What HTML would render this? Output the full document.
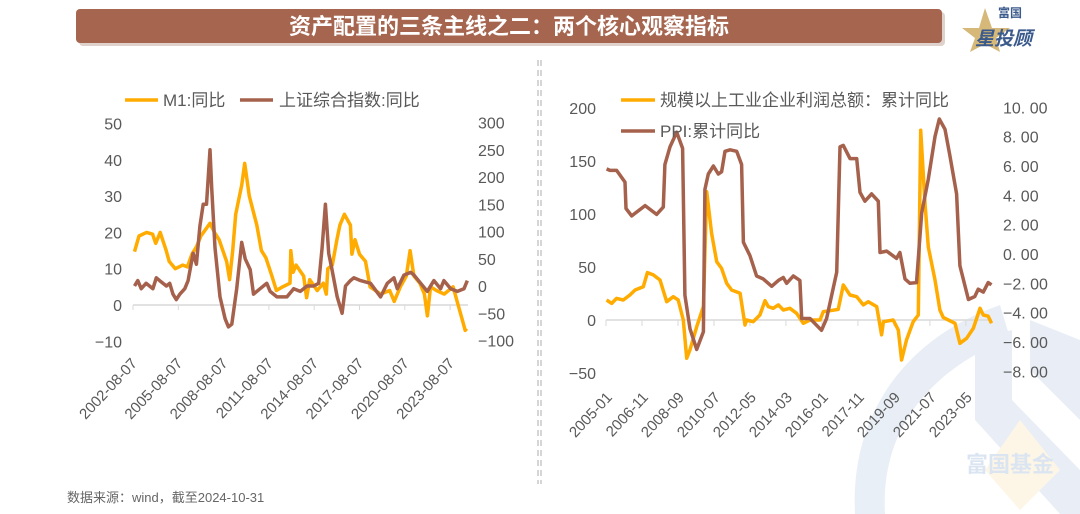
<!DOCTYPE html>
<html><head><meta charset="utf-8">
<style>
body{margin:0;background:#fff;}
#wrap{position:relative;width:1080px;height:514px;overflow:hidden;background:#fff;font-family:"Liberation Sans","Noto Sans CJK SC",sans-serif;}
svg text{font-family:"Liberation Sans","Noto Sans CJK SC",sans-serif;}
</style></head>
<body>
<div id="wrap">
<svg id="svg" width="1080" height="514" xmlns="http://www.w3.org/2000/svg">
  <g opacity="0.8">
    <path d="M855,514 C850,420 900,340 1000,305 L1010,338 C930,370 880,430 885,514 Z" fill="#e4ebf5"/>
    <path d="M975,340 L1012,330 L1012,400 L1080,470 L1080,514 L1060,514 L975,420 Z" fill="#e4ebf5"/>
    <path d="M1030,320 L1080,340 L1080,420 L1030,370 Z" fill="#e4ebf5"/>
    <path d="M1020,420 L1060,470 L1020,510 L985,470 Z" fill="#fdf3df"/>
    <text x="966" y="472" font-size="22" fill="#d3dff0" font-weight="bold">富国基金</text>
  </g>
  <g>
    <rect x="79" y="12" width="866" height="34" rx="4" fill="#c9b3a8" opacity="0.6"/>
    <rect x="76" y="9" width="866" height="34" rx="4" fill="#a6654f"/>
    <text x="509" y="34" text-anchor="middle" font-size="22" font-weight="bold" fill="#fff">资产配置的三条主线之二：两个核心观察指标</text>
  </g>
  <g>
    <polygon points="985,8 992,28 1010,28 996,38 1000,52 985,44 970,52 975,38 962,28 979,28" fill="#d6b878"/>
    <text x="998" y="17" font-size="12" font-weight="bold" fill="#3b5a8c">富国</text>
    <text x="975" y="45" font-size="19" font-weight="bold" fill="#3b5a8c" font-style="italic">星投顾</text>
  </g>
  <line x1="538" y1="60" x2="538" y2="484" stroke="#c8c8c8" stroke-width="1.5" stroke-dasharray="6,4"/>
  <line x1="541" y1="60" x2="541" y2="484" stroke="#c8c8c8" stroke-width="1.5" stroke-dasharray="6,4"/>
  <g id="left"></g>
  <g id="right"></g>
  <text x="67" y="502" font-size="13" fill="#666">数据来源：wind，截至2024-10-31</text>
</svg>
</div>
<script>
// ---- Left chart data ----
const m1Years=[2002.7,2003.0,2003.5,2003.9,2004.1,2004.4,2004.8,2005.0,2005.4,2005.9,2006.2,2006.5,2006.8,2007.1,2007.7,2008.0,2008.3,2008.8,2009.0,2009.2,2009.4,2009.8,2010.0,2010.3,2010.8,2011.1,2011.4,2011.8,2012.1,2012.5,2013.0,2013.05,2013.2,2013.4,2013.9,2014.1,2014.3,2014.8,2015.2,2015.4,2015.5,2015.8,2016.1,2016.3,2016.6,2017.0,2017.1,2017.3,2017.6,2018.0,2018.3,2019.0,2019.6,2019.9,2020.3,2020.7,2020.95,2021.2,2021.6,2021.9,2022.1,2022.3,2022.7,2023.2,2023.8,2024.0,2024.4,2024.6,2024.7];
const m1Values=[14.7,19,20,19.5,17,20,15,12,10,11,10.5,14,16,19,22.5,20,18,12,7,15,25,33,39,30,22,15,13,8,4,5,6,15,9,11,8,2,7,4,6,3,10,11,18,22,25,22,14,18,14,12,5,3,4,1,5,8,15,8,6,3,-3,5,4,3,5,2,-4,-7,-6.5];
const shYears=[2002.7,2002.92,2003.14,2003.47,2003.92,2004.14,2004.36,2004.81,2005.03,2005.25,2005.47,2005.7,2006.03,2006.25,2006.58,2006.8,2007.03,2007.25,2007.47,2007.7,2007.81,2008.03,2008.36,2008.7,2008.92,2009.14,2009.47,2009.8,2010.03,2010.36,2010.58,2011.02,2011.46,2011.68,2012.13,2012.79,2013.24,2013.68,2014.12,2014.56,2014.9,2015.12,2015.34,2015.56,2015.78,2016.12,2016.45,2016.67,2017.0,2017.22,2017.67,2018.33,2019.0,2019.44,2019.88,2020.1,2020.54,2020.99,2021.21,2021.65,2022.09,2022.53,2022.97,2023.19,2023.64,2024.08,2024.52,2024.74];
const shValues=[0,10,-5,5,-5,15,10,0,5,-15,-25,-15,-5,10,60,40,110,150,150,250,180,70,-20,-60,-75,-70,-5,80,50,30,-15,-5,5,-10,-20,-20,-5,-10,0,0,5,70,150,60,30,-20,-50,0,10,15,10,5,-20,5,15,-5,20,25,20,5,-10,10,-5,10,-5,-10,-5,10];
const leftTicksL=[50,40,30,20,10,0,-10];
const leftTicksR=[300,250,200,150,100,50,0,-50,-100];
const leftXLabels=["2002-08-07","2005-08-07","2008-08-07","2011-08-07","2014-08-07","2017-08-07","2020-08-07","2023-08-07"];
// ---- Right chart data ----
const profitYears=[2005.03,2005.29,2005.54,2005.88,2006.22,2006.48,2006.9,2007.11,2007.41,2007.75,2008.09,2008.43,2008.68,2008.94,2009.11,2009.28,2009.62,2009.96,2010.13,2010.38,2010.64,2010.89,2011.15,2011.4,2011.83,2012.08,2012.16,2012.5,2012.84,2013.1,2013.27,2013.52,2013.78,2014.03,2014.37,2014.71,2015.05,2015.39,2015.73,2015.9,2016.07,2016.41,2016.83,2017.09,2017.43,2017.77,2018.11,2018.36,2018.79,2019.04,2019.13,2019.63,2019.89,2020.06,2020.31,2020.65,2020.91,2021.03,2021.25,2021.42,2021.76,2022.01,2022.18,2022.78,2023.03,2023.37,2023.71,2024.05,2024.22,2024.47,2024.64];
const profitValues=[18.9,15.7,20.4,18.9,23.6,28.3,31.4,44.7,42.5,37.7,17.3,22,18.9,0,-36,-28,-6.3,12.6,121,81.8,55,48.7,34.6,28.3,25.2,-4.7,0,-1.6,4.7,18.2,12.6,11,14.2,9.4,11,6.3,-3.1,0,0,0,7.9,8.8,10,33,23.6,22,14.2,17.3,12.6,-14,-1.6,0,-9.4,-37.7,-18.9,-1.6,4.7,179,110,69,37.7,9.4,2.5,-3.1,-22,-17.3,-7.9,11,4.7,3.6,-3.1];
const ppiYears=[2005.03,2005.2,2005.54,2005.97,2006.02,2006.31,2006.65,2006.99,2007.58,2007.92,2008.0,2008.26,2008.6,2008.9,2009.02,2009.28,2009.62,2009.96,2010.04,2010.21,2010.47,2010.72,2010.89,2011.06,2011.32,2011.66,2011.91,2012.0,2012.33,2012.67,2013.01,2013.44,2013.78,2014.03,2014.2,2014.54,2014.88,2014.97,2015.39,2015.98,2016.24,2016.75,2016.92,2017.09,2017.43,2017.77,2017.94,2018.19,2018.53,2018.87,2018.96,2019.3,2019.8,2019.97,2020.23,2020.48,2020.82,2021.08,2021.42,2021.76,2021.98,2022.27,2022.52,2022.86,2023.03,2023.46,2023.79,2023.96,2024.22,2024.47,2024.64];
const ppiValues=[5.8,5.7,5.7,4.9,3.1,2.6,2.95,3.3,2.7,3.2,6.1,7.3,8.3,7.2,-2.8,-5.1,-6.5,-5.3,4.4,5.45,6.0,5.45,5.6,7.0,7.1,7.0,6.1,0.8,-0.1,-1.5,-1.7,-2.2,-1.8,-1.6,-2.0,-1.5,-1.8,-4.4,-4.4,-5.2,-4.4,-1.25,7.3,7.4,6.5,6.5,4.2,3.6,4.1,3.6,0.1,0.2,-0.3,0.1,-1.7,-2.0,-1.95,2.8,5.1,8.0,9.2,8.5,6.7,4.1,-0.8,-3.1,-2.9,-2.4,-2.6,-1.95,-2.1];
const rightTicksL=[200,150,100,50,0,-50];
const rightTicksR=[10,8,6,4,2,0,-2,-4,-6,-8];
const rightXLabels=["2005-01","2006-11","2008-09","2010-07","2012-05","2014-03","2016-01","2017-11","2019-09","2021-07","2023-05"];

const NS="http://www.w3.org/2000/svg";
function mk(parent,tag,attrs,txt){const e=document.createElementNS(NS,tag);for(const k in attrs)e.setAttribute(k,attrs[k]);if(txt!==undefined)e.textContent=txt;parent.appendChild(e);return e;}
const GRAY="#595959",YEL="#ffab00",BRN="#a5614b";

// ---- Left chart ----
const L=document.getElementById('left');
const lx=y=>133+(y-2002.6)*15.1;
const lyL=v=>305-v*3.63;
const lyR=v=>286-v*0.545;
leftTicksL.forEach(v=>{const t=mk(L,'text',{x:122,y:lyL(v)+6,'text-anchor':'end','font-size':16,fill:GRAY},String(v).replace('-','−'));

});
leftTicksR.forEach(v=>{const t=mk(L,'text',{x:478,y:lyR(v)+6,'font-size':16,fill:GRAY},String(v).replace('-','−'));

});
const la=mk(L,'line',{x1:133,x2:468,y1:lyL(0),y2:lyL(0),stroke:'#d9d9d9','stroke-width':1.5});


leftXLabels.forEach((s,i)=>{const x=lx(2002.6+3*i);
mk(L,'line',{x1:x,x2:x,y1:lyL(0),y2:lyL(0)+5,stroke:'#d9d9d9'});
const t=mk(L,'text',{x:0,y:0,'text-anchor':'end','font-size':15,fill:GRAY,transform:`translate(${x+5},${364}) rotate(-47)`},s);

});
function line(parent,xs,vs,fx,fy,col,name){const d=xs.map((x,i)=>(i?'L':'M')+fx(x).toFixed(1)+','+fy(vs[i]).toFixed(1)).join('');
const p=mk(parent,'path',{d:d,fill:'none',stroke:col,'stroke-width':3.5,'stroke-linejoin':'round'});

}
line(L,m1Years,m1Values,lx,lyL,YEL,'m1-line');
line(L,shYears,shValues,lx,lyR,BRN,'shanghai-index-line');
const lg=mk(L,'g',{});


mk(lg,'line',{x1:125,x2:158,y1:100,y2:100,stroke:YEL,'stroke-width':3.5});
mk(lg,'text',{x:163,y:106,'font-size':17,fill:GRAY},'M1:同比');
mk(lg,'line',{x1:240,x2:273,y1:100,y2:100,stroke:BRN,'stroke-width':3.5});
mk(lg,'text',{x:279,y:106,'font-size':17,fill:GRAY},'上证综合指数:同比');

// ---- Right chart ----
const R=document.getElementById('right');
const rx=y=>606+(y-2005)*19.63;
const ryL=v=>320-v*1.06;
const ryR=v=>254-v*14.67;
rightTicksL.forEach(v=>{const t=mk(R,'text',{x:596,y:ryL(v)+6,'text-anchor':'end','font-size':16,fill:GRAY},String(v).replace('-','−'));

});
rightTicksR.forEach(v=>{const t=mk(R,'text',{x:1003,y:ryR(v)+6,'font-size':16,fill:GRAY},(v<0?'−':'')+Math.abs(v).toFixed(2).replace('.','. '));

});
const ra=mk(R,'line',{x1:606,x2:992,y1:ryL(0),y2:ryL(0),stroke:'#d9d9d9','stroke-width':1.5});


rightXLabels.forEach((s,i)=>{const x=rx(2005+i*22/12);
mk(R,'line',{x1:x,x2:x,y1:ryL(0),y2:ryL(0)+6,stroke:'#d9d9d9'});
const t=mk(R,'text',{x:0,y:0,'text-anchor':'end','font-size':15,fill:GRAY,transform:`translate(${x+7},${398}) rotate(-47)`},s);

});
line(R,profitYears,profitValues,rx,ryL,YEL,'industrial-profit-line');
line(R,ppiYears,ppiValues,rx,ryR,BRN,'ppi-line');
const rg=mk(R,'g',{});


mk(rg,'line',{x1:621,x2:655,y1:100,y2:100,stroke:YEL,'stroke-width':3.5});
mk(rg,'text',{x:660,y:106,'font-size':17,fill:GRAY},'规模以上工业企业利润总额：累计同比');
mk(rg,'line',{x1:621,x2:655,y1:131,y2:131,stroke:BRN,'stroke-width':3.5});
mk(rg,'text',{x:660,y:137,'font-size':17,fill:GRAY},'PPI:累计同比');
</script>
</body></html>
